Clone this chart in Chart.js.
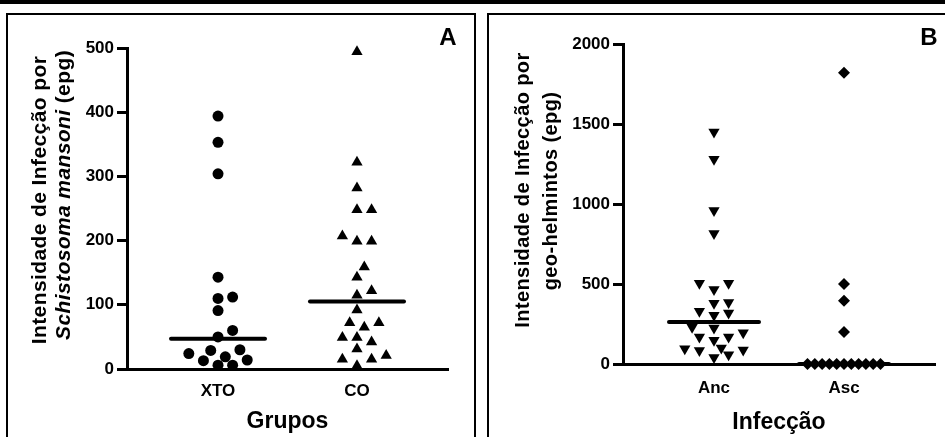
<!DOCTYPE html>
<html>
<head>
<meta charset="utf-8">
<script src="https://cdn.jsdelivr.net/npm/chart.js@4.4.1/dist/chart.umd.min.js"></script>
<style>
  body { margin: 0; background: #fff; width: 945px; height: 437px; overflow: hidden; position: relative; }
  #bar { position: absolute; left: 0; top: 0; width: 945px; height: 4px; background: #000; }
  .panel { position: absolute; top: 13px; height: 440px; border: 2px solid #000; border-bottom: none; }
  #panelA { left: 6px; width: 466px; }
  #panelB { left: 487px; width: 470px; }
  canvas { position: absolute; top: 0; }
</style>
</head>
<body>
<div id="bar"></div>
<div class="panel" id="panelA"></div>
<div class="panel" id="panelB"></div>
<canvas id="chartA" width="480" height="437" style="left:0"></canvas>
<canvas id="chartB" width="465" height="437" style="left:480px"></canvas>
<script>
// Panel A - Schistosoma mansoni
const groupsA = ['XTO', 'CO'];
const xtoValues = [394, 353, 304, 143, 110, 112, 91, 60, 50, 30, 29, 24, 19, 14, 13, 6, 6];
const coValues = [494, 322, 282, 248, 248, 207, 199, 199, 159, 143, 122, 115, 92, 72, 65, 72, 49, 49, 42, 31, 21, 15, 15, 5];
const mediansA = [47, 105];
const ticksA = [0, 100, 200, 300, 400, 500];

// Panel B - geo-helmintos
const groupsB = ['Anc', 'Asc'];
const ancValues = [1450, 1280, 960, 815, 505, 465, 505, 385, 380, 330, 318, 305, 230, 225, 195, 168, 148, 168, 95, 88, 100, 58, 85, 40];
const ascValues = [1820, 500, 395, 200, 0, 0, 0, 0, 0, 0, 0, 0, 0, 0, 0];
const mediansB = [262, 0];
const ticksB = [0, 500, 1000, 1500, 2000];

const FONT = "'Liberation Sans', Arial, sans-serif";

// draws axis titles (with italic parts) and the panel letter
function makeTextPlugin(cfg) {
  return {
    id: 'panelText',
    afterDraw(chart) {
      const ctx = chart.ctx, area = chart.chartArea;
      ctx.save();
      ctx.fillStyle = '#000';
      ctx.textBaseline = 'middle';
      ctx.textAlign = 'center';
      ctx.font = `bold 23px ${FONT}`;
      ctx.fillText(cfg.xTitle, (area.left + area.right) / 2, cfg.xTitleY);
      ctx.font = `bold 24px ${FONT}`;
      ctx.fillText(cfg.letter, cfg.letterX, cfg.letterY);

      ctx.textAlign = 'left';
      ctx.letterSpacing = cfg.spacing;
      cfg.yTitle.forEach(line => {
        const fonts = line.parts.map(p => `${p[1] ? 'italic ' : ''}bold ${cfg.ySize}px ${FONT}`);
        let total = 0;
        const widths = line.parts.map((p, i) => { ctx.font = fonts[i]; const w = ctx.measureText(p[0]).width; total += w; return w; });
        ctx.save();
        ctx.translate(line.x, line.y);
        ctx.rotate(-Math.PI / 2);
        let pos = -total / 2;
        line.parts.forEach((p, i) => {
          ctx.font = fonts[i];
          ctx.fillText(p[0], pos, 0);
          pos += widths[i];
        });
        ctx.restore();
      });
      ctx.restore();
    }
  };
}

function scatterSet(group, values, style) {
  return Object.assign({
    data: values.map(v => ({ x: group, y: v })),
    backgroundColor: '#000',
    borderColor: '#000',
    borderWidth: 0,
    clip: false
  }, style);
}

function medianSet(group, m) {
  return {
    type: 'line',
    data: [{ x: group, y: m }, { x: group, y: m }],
    borderColor: '#000',
    borderWidth: 4,
    borderCapStyle: 'round',
    pointRadius: 0,
    clip: false
  };
}

function makeChart(id, cfg) {
  return new Chart(document.getElementById(id), {
    type: 'scatter',
    data: {
      datasets: [
        medianSet(0, cfg.medians[0]),
        medianSet(1, cfg.medians[1]),
        scatterSet(0, cfg.series[0], cfg.styles[0]),
        scatterSet(1, cfg.series[1], cfg.styles[1])
      ]
    },
    options: {
      responsive: false,
      animation: false,
      devicePixelRatio: 1,
      events: [],
      layout: { padding: { top: cfg.top, right: cfg.right, left: 0, bottom: 0 } },
      plugins: { legend: { display: false }, tooltip: { enabled: false } },
      scales: {
        x: {
          type: 'linear',
          min: cfg.xMin,
          max: cfg.xMax,
          afterBuildTicks: s => { s.ticks = cfg.groups.map((_, i) => ({ value: i })); },
          afterFit: s => { s.height = cfg.xHeight; },
          grid: { display: false, drawTicks: false },
          border: { color: '#000', width: 3 },
          ticks: {
            callback: v => cfg.groups[v],
            color: '#000',
            font: { family: FONT, size: 17, weight: 'bold' },
            padding: cfg.xPad,
            maxRotation: 0,
            autoSkip: false
          }
        },
        y: {
          min: cfg.yTicks[0],
          max: cfg.yTicks[cfg.yTicks.length - 1],
          afterBuildTicks: s => { s.ticks = cfg.yTicks.map(v => ({ value: v })); },
          afterFit: s => { s.width = cfg.yWidth; },
          grid: { drawOnChartArea: false, color: '#000', lineWidth: 3, tickLength: 10 },
          border: { color: '#000', width: 3 },
          ticks: {
            callback: v => String(v),
            color: '#000',
            font: { family: FONT, size: 17, weight: 'bold' },
            padding: 3
          }
        }
      }
    },
    plugins: [makeTextPlugin(cfg.text)]
  });
}

// spread points sideways so they don't overlap (column scatter)
function spreadPoints(chart, medianHalfPx) {
  const xs = chart.scales.x, ys = chart.scales.y;
  const unit = xs.getPixelForValue(1) - xs.getPixelForValue(0);
  const halfStep = 7.3, gap = 10.5, maxSteps = 5;
  [2, 3].forEach(dsIndex => {
    const ds = chart.data.datasets[dsIndex];
    const group = dsIndex - 2;
    const values = ds.data.map(p => p.y);
    const placed = [];
    const pts = new Array(values.length);
    const order = values.map((v, i) => i).sort((a, b) => values[a] - values[b]);
    order.forEach(i => {
      const py = ys.getPixelForValue(values[i]);
      let best = 0, bestD = -1;
      for (let k = 0; k <= maxSteps * 2; k++) {
        const off = (k % 2 ? 1 : -1) * Math.ceil(k / 2) * halfStep;
        let d = Infinity;
        placed.forEach(p => { d = Math.min(d, Math.hypot(p.x - off, p.y - py)); });
        if (d >= gap) { best = off; break; }
        if (d > bestD) { best = off; bestD = d; }
      }
      placed.push({ x: best, y: py });
      pts[i] = { x: group + best / unit, y: values[i] };
    });
    ds.data = pts;
  });
  [0, 1].forEach(g => {
    const ds = chart.data.datasets[g];
    const w = medianHalfPx / unit;
    ds.data = [{ x: g - w, y: ds.data[0].y }, { x: g + w, y: ds.data[0].y }];
  });
  chart.update('none');
}

const chartA = makeChart('chartA', {
  groups: groupsA,
  series: [xtoValues, coValues],
  medians: mediansA,
  yTicks: ticksA,
  styles: [
    { pointStyle: 'circle', pointRadius: 5.5 },
    { pointStyle: 'triangle', pointRadius: 6.5 }
  ],
  xMin: -0.655, xMax: 1.655,
  top: 48, right: 32, xHeight: 68, yWidth: 127, xPad: 12,
  text: {
    xTitle: 'Grupos', xTitleY: 422,
    letter: 'A', letterX: 448, letterY: 38,
    ySize: 21, spacing: '0.4px',
    yTitle: [
      { x: 40, y: 200, parts: [['Intensidade de Infecção por', false]] },
      { x: 64, y: 195, parts: [['Schistosoma mansoni', true], [' (epg)', false]] }
    ]
  }
});
spreadPoints(chartA, 47);

const chartB = makeChart('chartB', {
  groups: groupsB,
  series: [ancValues, ascValues],
  medians: mediansB,
  yTicks: ticksB,
  styles: [
    { pointStyle: 'triangle', pointRotation: 180, pointRadius: 6.5 },
    { pointStyle: 'rectRot', pointRadius: 6 }
  ],
  xMin: -0.7, xMax: 1.7,
  top: 44, right: 10, xHeight: 73, yWidth: 143, xPad: 14,
  text: {
    xTitle: 'Infecção', xTitleY: 423,
    letter: 'B', letterX: 449, letterY: 38,
    ySize: 20, spacing: '0.4px',
    yTitle: [
      { x: 43, y: 190, parts: [['Intensidade de Infecção por', false]] },
      { x: 71, y: 191, parts: [['geo-helmintos (epg)', false]] }
    ]
  }
});
spreadPoints(chartB, 45);
</script>
</body>
</html>
